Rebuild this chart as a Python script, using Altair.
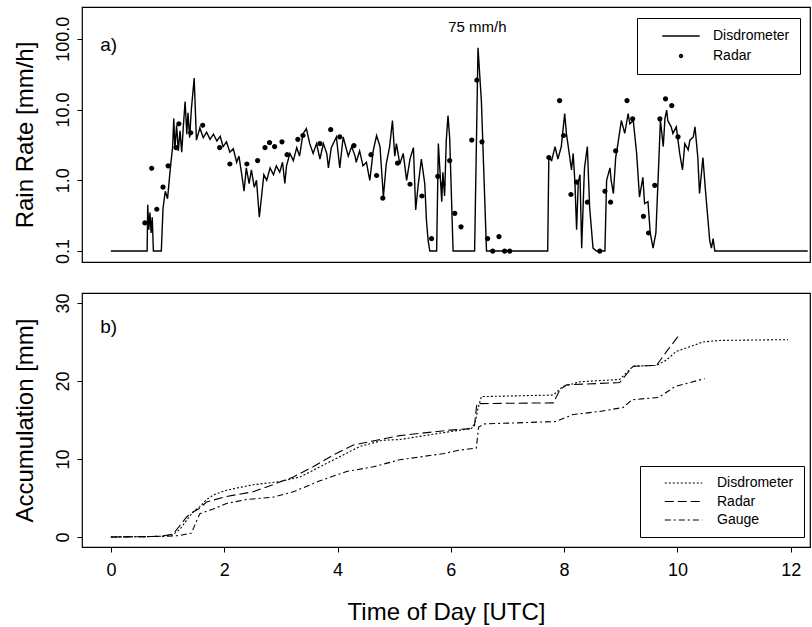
import altair as alt
import pandas as pd

# ---------------- data ----------------
# a) disdrometer rain rate (mm/h), 0.1 = no rain floor
dis_time = [0.00, 0.64, 0.65, 0.67, 0.69, 0.71, 0.73, 0.75, 0.89, 0.92, 0.96, 1.00, 1.03, 1.05,
            1.09, 1.11, 1.13, 1.16, 1.19, 1.22, 1.25, 1.28, 1.31, 1.34, 1.36, 1.39, 1.42, 1.47,
            1.51, 1.57, 1.63, 1.69, 1.75, 1.81, 1.87, 1.93, 1.98, 2.04, 2.10, 2.16, 2.22, 2.26,
            2.31, 2.35, 2.39, 2.44, 2.48, 2.53, 2.57, 2.62, 2.66, 2.70, 2.75, 2.81, 2.87, 2.92,
            2.98, 3.03, 3.07, 3.10, 3.16, 3.22, 3.28, 3.33, 3.39, 3.45, 3.51, 3.57, 3.63, 3.69,
            3.75, 3.81, 3.84, 3.89, 3.98, 4.04, 4.10, 4.19, 4.25, 4.31, 4.33, 4.39, 4.45, 4.51,
            4.57, 4.63, 4.69, 4.75, 4.81, 4.86, 4.92, 4.97, 5.01, 5.04, 5.10, 5.16, 5.22, 5.28,
            5.34, 5.38, 5.42, 5.48, 5.54, 5.57, 5.60, 5.63, 5.75, 5.78, 5.84, 5.86, 5.89, 5.92,
            5.95, 5.98, 6.04, 6.42, 6.48, 6.54, 6.63, 7.71, 7.73, 7.78, 7.84, 7.89, 7.95, 8.01,
            8.04, 8.09, 8.13, 8.16, 8.19, 8.22, 8.25, 8.28, 8.31, 8.35, 8.36, 8.41, 8.45, 8.51,
            8.57, 8.72, 8.75, 8.81, 8.83, 8.87, 8.91, 8.95, 9.01, 9.07, 9.13, 9.16, 9.22, 9.28,
            9.33, 9.39, 9.42, 9.48, 9.52, 9.57, 9.62, 9.66, 9.70, 9.75, 9.78, 9.81, 9.83, 9.89,
            9.92, 9.98, 10.04, 10.09, 10.13, 10.19, 10.22, 10.28, 10.31, 10.36, 10.39, 10.45,
            10.49, 10.54, 10.57, 10.60, 10.63, 10.66, 12.30]
dis_rate = [0.10, 0.10, 0.45, 0.20, 0.35, 0.18, 0.30, 0.10, 0.10, 0.40, 0.70, 0.55, 1.00, 1.50,
            3.00, 7.50, 2.80, 6.00, 2.60, 5.00, 2.50, 6.00, 13.0, 4.50, 9.00, 4.00, 10.0, 28.0,
            3.70, 5.50, 4.00, 4.80, 3.80, 4.50, 3.60, 4.20, 3.00, 3.50, 2.50, 2.80, 1.80, 2.20,
            1.20, 0.70, 1.50, 0.90, 1.40, 0.80, 1.00, 0.30, 0.60, 1.20, 1.00, 1.50, 1.20, 1.60,
            1.30, 1.80, 0.90, 1.60, 2.40, 1.90, 2.90, 2.20, 4.50, 5.40, 3.30, 2.40, 3.30, 2.00,
            3.30, 2.40, 1.50, 2.90, 4.10, 1.50, 4.10, 2.20, 3.00, 2.20, 1.80, 2.60, 1.60, 1.80,
            1.00, 2.60, 4.30, 3.00, 0.58, 1.70, 3.00, 7.00, 2.20, 3.30, 1.70, 2.40, 1.00, 2.00,
            2.90, 0.38, 0.80, 2.00, 0.90, 0.27, 0.14, 0.10, 0.10, 3.30, 0.50, 1.30, 0.60, 3.70,
            8.20, 4.00, 0.10, 0.10, 75.0, 13.0, 0.10, 0.10, 2.10, 1.90, 3.00, 2.00, 3.00, 8.80,
            4.60, 2.40, 1.40, 2.40, 0.95, 0.20, 0.95, 1.20, 0.11, 0.95, 1.50, 3.00, 0.42, 0.11,
            0.10, 0.10, 1.00, 1.50, 1.00, 0.65, 2.10, 3.30, 7.00, 4.60, 8.80, 6.30, 7.00, 2.40,
            0.58, 1.10, 0.47, 0.50, 0.18, 0.11, 0.18, 1.10, 7.00, 3.00, 7.50, 9.80, 7.00, 5.70,
            4.60, 5.70, 2.40, 1.40, 3.30, 2.70, 3.70, 4.10, 5.70, 2.10, 0.65, 2.10,
            0.80, 0.27, 0.14, 0.11, 0.15, 0.10, 0.10]

# a) radar rain rate (mm/h)
radar_time = [0.60, 0.72, 0.81, 0.92, 1.01, 1.15, 1.20, 1.41, 1.62, 1.92, 2.10, 2.40, 2.59, 2.72,
              2.80, 2.89, 3.02, 3.11, 3.30, 3.39, 3.69, 3.88, 4.04, 4.29, 4.59, 4.69, 4.80, 5.06,
              5.28, 5.49, 5.66, 5.77, 5.86, 5.98, 6.07, 6.18, 6.37, 6.46, 6.55, 6.65, 6.74, 6.85,
              6.95, 7.04, 7.73, 7.92, 7.99, 8.12, 8.22, 8.41, 8.63, 8.72, 8.82, 8.91, 9.11, 9.21,
              9.40, 9.49, 9.60, 9.69, 9.79, 9.90, 10.01]
radar_rate = [0.25, 1.48, 0.39, 0.80, 1.60, 2.90, 6.30, 4.70, 6.00, 2.90, 1.70, 1.70, 1.90, 2.90,
              3.40, 3.00, 3.50, 2.30, 3.80, 4.30, 3.30, 5.20, 4.10, 3.10, 2.30, 1.17, 0.56, 1.75,
              0.88, 0.60, 0.15, 1.14, 0.88, 1.90, 0.34, 0.22, 3.70, 26.0, 3.50, 0.15, 0.10, 0.16,
              0.10, 0.10, 2.10, 13.4, 4.30, 0.63, 0.94, 0.49, 0.10, 0.70, 0.49, 2.60, 13.4, 7.40,
              0.31, 0.18, 0.85, 7.40, 14.2, 11.4, 4.10]

# b) accumulations (mm)
acc_dis_time = [0.0, 0.6, 0.9, 1.10, 1.22, 1.34, 1.45, 1.57, 1.69, 1.81, 2.04, 2.51, 2.98, 3.34,
                3.69, 4.04, 4.39, 4.80, 5.10, 5.45, 5.98, 6.36, 6.42, 6.48, 6.54, 7.81, 7.98,
                8.28, 8.98, 9.22, 9.63, 9.81, 9.98, 10.22, 10.45, 10.75, 11.95]
acc_dis = [0.0, 0.05, 0.1, 0.3, 1.0, 2.2, 3.2, 3.9, 4.8, 5.4, 6.0, 6.7, 7.1, 7.7,
           9.0, 10.3, 11.6, 12.4, 12.5, 12.9, 13.5, 13.9, 14.3, 16.5, 18.0, 18.2, 19.3,
           19.9, 20.2, 21.9, 22.0, 22.7, 23.8, 24.4, 25.0, 25.2, 25.3]

acc_radar_time = [0.0, 0.6, 0.9, 1.10, 1.22, 1.34, 1.45, 1.57, 1.69, 2.04, 2.51, 2.86, 3.22, 3.57,
                  3.92, 4.28, 4.69, 5.10, 5.98, 6.36, 6.42, 6.46, 7.81, 7.92, 8.04, 8.98, 9.22,
                  9.63, 9.81, 10.01]
acc_radar = [0.0, 0.05, 0.1, 0.4, 1.5, 2.6, 3.2, 3.7, 4.5, 5.2, 5.8, 6.7, 7.7, 9.0,
             10.5, 11.8, 12.4, 13.0, 13.7, 13.9, 14.5, 17.1, 17.2, 18.8, 19.5, 19.8, 21.9,
             22.0, 23.8, 25.7]

acc_gauge_time = [0.0, 0.7, 1.0, 1.22, 1.42, 1.51, 1.57, 1.81, 2.04, 2.39, 2.86, 3.22, 3.69, 4.16,
                  4.63, 5.10, 5.88, 6.12, 6.45, 6.49, 6.60, 7.85, 8.16, 8.63, 9.04, 9.20, 9.67,
                  9.96, 10.48]
acc_gauge = [0.0, 0.05, 0.1, 0.2, 0.5, 2.0, 3.0, 3.6, 4.3, 4.8, 5.1, 5.8, 7.2, 8.4,
             9.0, 9.9, 10.7, 11.1, 11.4, 14.1, 14.5, 14.8, 15.7, 16.1, 16.6, 17.6, 17.9,
             19.3, 20.3]

series_names = ["Disdrometer", "Radar", "Gauge"]
x_ticks = [0, 2, 4, 6, 8, 10, 12]
rate_ticks = [0.1, 1, 10, 100]
acc_ticks = [0, 10, 20, 30]

# ---------------- chart ----------------
FONT = "Liberation Sans"
X_DOMAIN = [-0.51, 12.34]
W = 728
H_TOP = 255
H_BOT = 254

rate_df = pd.DataFrame({"t": dis_time, "r": dis_rate})
radar_df = pd.DataFrame({"t": radar_time, "r": radar_rate, "series": ["Radar"] * len(radar_time)})
ann_a = pd.DataFrame({"t": [-0.19], "r": [81.0], "label": ["a)"]})
ann_peak = pd.DataFrame({"t": [6.47], "r": [148.0], "label": ["75 mm/h"]})

acc_df = pd.concat([
    pd.DataFrame({"t": acc_dis_time, "v": acc_dis, "series": series_names[0]}),
    pd.DataFrame({"t": acc_radar_time, "v": acc_radar, "series": series_names[1]}),
    pd.DataFrame({"t": acc_gauge_time, "v": acc_gauge, "series": series_names[2]}),
], ignore_index=True)
ann_b = pd.DataFrame({"t": [-0.19], "v": [26.9], "label": ["b)"]})

x_scale = alt.Scale(domain=X_DOMAIN, nice=False, zero=False)
y_top_scale = alt.Scale(type="log", domain=[0.07, 282], nice=False)
y_bot_scale = alt.Scale(domain=[-1.28, 31.28], nice=False, zero=False)

def y_axis(title, values, fmt, h):
    return alt.Axis(
        title=title, values=values, format=fmt, labelAngle=270, labelAlign="center",
        labelBaseline="alphabetic", labelPadding=9, tickSize=5, labelFontSize=18,
        domain=False, grid=False, titleFontSize=24, titleAngle=270, titleAlign="center",
        titleBaseline="alphabetic", titleX=-50, titleY=h / 2,
    )

x_top = alt.X("t:Q", scale=x_scale, axis=None)
y_top = alt.Y("r:Q", scale=y_top_scale, axis=y_axis("Rain Rate [mm/h]", rate_ticks, ".1f", H_TOP))

line_top = alt.Chart(rate_df).mark_line(color="black", strokeWidth=1.4, clip=True).encode(
    x=x_top, y=y_top, order="t:Q"
)

legend_common = dict(
    title=None, orient="none", padding=10, strokeColor="black", fillColor="white",
    cornerRadius=0, symbolOffset=14, labelFont=FONT, labelFontSize=14,
    labelColor="black", symbolSize=1400, symbolStrokeColor="black", labelLimit=300,
)

# small dot path (unit square -1..1), drawn as an outlined dot with thick stroke
dot_path = "M-0.07,0A0.07,0.07 0 1,1 0.07,0A0.07,0.07 0 1,1 -0.07,0Z"
pts_top = alt.Chart(radar_df).mark_point(
    filled=False, size=1400, color="black", strokeWidth=2.6, opacity=1, clip=True
).encode(
    x=x_top, y=y_top,
    shape=alt.Shape(
        "series:N",
        scale=alt.Scale(domain=["Disdrometer", "Radar"], range=["M-1,0L1,0", dot_path]),
        legend=alt.Legend(
            legendX=555, legendY=11, clipHeight=16, rowPadding=4, labelOffset=12,
            symbolStrokeWidth=1.7, symbolOpacity=1,
            **legend_common,
        ),
    ),
)

txt_a = alt.Chart(ann_a).mark_text(
    font=FONT, fontSize=19, align="left", baseline="middle", color="black"
).encode(x=x_top, y=y_top, text="label:N")
txt_peak = alt.Chart(ann_peak).mark_text(
    font=FONT, fontSize=15, align="center", baseline="middle", color="black"
).encode(x=x_top, y=y_top, text="label:N")

top = alt.layer(line_top, pts_top, txt_a, txt_peak).properties(width=W, height=H_TOP)

x_bot = alt.X(
    "t:Q", scale=x_scale,
    axis=alt.Axis(
        title="Time of Day [UTC]", values=x_ticks, format="d", tickSize=5, labelPadding=9,
        labelFontSize=18, domain=False, grid=False, titleFontSize=24, titlePadding=21,
    ),
)
y_bot = alt.Y("v:Q", scale=y_bot_scale, axis=y_axis("Accumulation [mm]", acc_ticks, "d", H_BOT))

lines_bot = alt.Chart(acc_df).mark_line(color="black", strokeWidth=1.1, clip=True).encode(
    x=x_bot, y=y_bot, detail="series:N", order="t:Q",
    strokeDash=alt.StrokeDash(
        "series:N",
        scale=alt.Scale(domain=series_names, range=[[2, 2], [9, 4], [6, 3, 2, 3]]),
        legend=alt.Legend(
            legendX=558, legendY=173, clipHeight=14, rowPadding=4.5, labelOffset=14,
            symbolStrokeWidth=1.1, **legend_common,
        ),
    ),
)
txt_b = alt.Chart(ann_b).mark_text(
    font=FONT, fontSize=19, align="left", baseline="middle", color="black"
).encode(x=x_bot, y=y_bot, text="label:N")

bottom = alt.layer(lines_bot, txt_b).properties(width=W, height=H_BOT)

chart = alt.vconcat(top, bottom, spacing=27).resolve_scale(
    shape="independent", strokeDash="independent"
).resolve_legend(
    shape="independent", strokeDash="independent"
).properties(
    padding={"left": 12, "top": 6, "right": 0, "bottom": 0},
    background="white",
).configure_view(
    stroke="black", strokeWidth=1.2
).configure_axis(
    labelFont=FONT, titleFont=FONT, labelColor="black", titleColor="black",
    tickColor="black", titleFontWeight="normal",
).configure_legend(
    labelFont=FONT
)

chart.save("out.html", embed_options={"renderer": "svg", "actions": False})
